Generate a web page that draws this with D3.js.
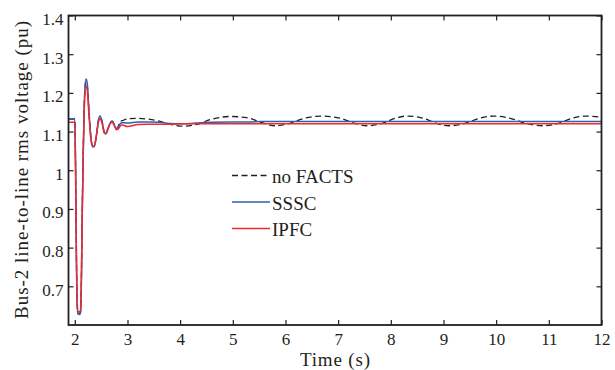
<!DOCTYPE html>
<html><head><meta charset="utf-8">
<script src="https://cdn.jsdelivr.net/npm/d3@7"></script>
<style>
html,body{margin:0;padding:0;background:#fff;}
svg{display:block;}
text{font-family:"Liberation Serif","Times New Roman",serif;fill:#231f20;}
</style></head>
<body>
<script>
const time = [1.88,2.00,2.015,2.03,2.045,2.06,2.09,2.11,2.125,2.14,2.16,2.18,2.21,2.235,2.27,2.31,2.345,2.37,2.41,2.45,2.48,2.52,2.56,2.59,2.63,2.67,2.71,2.75,2.79,2.82,2.86,2.9,3.0,3.2,3.4,3.6,3.8,4.05,4.3,4.6,4.95,5.3,5.55,5.8,6.05,6.35,6.7,7.05,7.3,7.55,7.85,8.1,8.3,8.6,8.85,9.1,9.4,9.7,9.95,10.25,10.55,10.9,11.2,11.45,11.7,12.0];
const noFACTS = [1.132,1.132,1.0,0.78,0.655,0.632,0.630,0.636,0.72,0.88,1.05,1.17,1.229,1.22,1.15,1.08,1.062,1.063,1.09,1.13,1.138,1.125,1.098,1.095,1.108,1.122,1.126,1.117,1.108,1.112,1.126,1.128,1.133,1.134,1.132,1.127,1.119,1.114,1.118,1.132,1.139,1.135,1.123,1.115,1.120,1.134,1.140,1.134,1.122,1.115,1.122,1.135,1.140,1.135,1.122,1.115,1.121,1.135,1.140,1.135,1.122,1.115,1.122,1.135,1.140,1.137];
const SSSC = [1.133,1.133,1.0,0.78,0.652,0.628,0.627,0.633,0.72,0.88,1.05,1.175,1.236,1.226,1.15,1.078,1.060,1.061,1.09,1.13,1.140,1.125,1.097,1.094,1.108,1.122,1.127,1.117,1.107,1.110,1.120,1.123,1.122,1.125,1.125,1.124,1.121,1.120,1.122,1.124,1.125,1.125,1.126,1.126,1.126,1.126,1.126,1.126,1.126,1.126,1.126,1.126,1.126,1.126,1.126,1.126,1.126,1.126,1.126,1.126,1.126,1.126,1.126,1.126,1.126,1.126];
const IPFC = [1.124,1.124,0.99,0.78,0.66,0.635,0.634,0.640,0.72,0.88,1.04,1.16,1.216,1.208,1.14,1.075,1.062,1.063,1.09,1.125,1.133,1.12,1.097,1.095,1.107,1.120,1.124,1.115,1.105,1.106,1.114,1.117,1.113,1.118,1.119,1.119,1.119,1.120,1.120,1.120,1.120,1.120,1.120,1.120,1.120,1.120,1.120,1.120,1.120,1.120,1.120,1.120,1.120,1.120,1.120,1.120,1.120,1.120,1.120,1.120,1.120,1.120,1.120,1.120,1.120,1.120];
const xTicks = [2,3,4,5,6,7,8,9,10,11,12];
const yTicks = [0.7,0.8,0.9,1,1.1,1.2,1.3,1.4];
const seriesNames = ["no FACTS","SSSC","IPFC"];
const seriesColors = ["#231f20","#2f5fae","#ee2a2e"];

const W = 615, H = 370;
const m = {left:68.5, right:13.5, top:15.5, bottom:45};
const svg = d3.select("body").append("svg").attr("width",W).attr("height",H);
const x = d3.scaleLinear().domain([1.88,12]).range([m.left, W-m.right]);
const y = d3.scaleLinear().domain([0.6,1.4]).range([H-m.bottom, m.top]);

const data = [noFACTS, SSSC, IPFC];
const line = d3.line().x((d,i)=>x(time[i])).y(d=>y(d)).curve(d3.curveMonotoneX);
const g = svg.append("g");
data.forEach((s,k)=>{
  g.append("path").datum(s).attr("d",line).attr("fill","none")
   .attr("stroke",seriesColors[k]).attr("stroke-width",k===0?1.3:1.5)
   .attr("stroke-dasharray",k===0?"6,3.5":null);
});

// axes
const fs = 17;
const xb = svg.append("g").attr("transform",`translate(0,${H-m.bottom})`)
  .call(d3.axisBottom(x).tickValues(xTicks).tickSize(-5).tickPadding(8).tickFormat(d3.format("d")));
const xt = svg.append("g").attr("transform",`translate(0,${m.top})`)
  .call(d3.axisTop(x).tickValues(xTicks).tickSize(-5).tickFormat(""));
const yl = svg.append("g").attr("transform",`translate(${m.left},0)`)
  .call(d3.axisLeft(y).tickValues(yTicks).tickSize(-5).tickPadding(5).tickFormat(d=>d===1?"1":d3.format(".1f")(d)));
const yr = svg.append("g").attr("transform",`translate(${W-m.right},0)`)
  .call(d3.axisRight(y).tickValues(yTicks).tickSize(-5).tickFormat(""));
[xb,xt,yl,yr].forEach(a=>{
  a.select(".domain").remove();
  a.selectAll(".tick line").attr("stroke","#231f20").attr("stroke-width",1.2);
  a.selectAll("text").attr("font-size",fs).attr("font-family","Liberation Serif").attr("fill","#231f20");
});
yl.selectAll("text").attr("dy","0.52em");
svg.append("rect").attr("x",m.left).attr("y",m.top).attr("width",W-m.left-m.right).attr("height",H-m.top-m.bottom)
  .attr("fill","none").attr("stroke","#231f20").attr("stroke-width",1.8);

svg.append("text").attr("x",(m.left+W-m.right)/2).attr("y",366).attr("text-anchor","middle")
  .attr("font-size",19).attr("textLength",70).attr("lengthAdjust","spacing").text("Time (s)");
svg.append("text").attr("transform",`translate(28,170) rotate(-90)`).attr("text-anchor","middle")
  .attr("font-size",19).attr("textLength",298).attr("lengthAdjust","spacing").text("Bus-2 line-to-line rms voltage (pu)");

// legend
const lg = svg.append("g");
seriesNames.forEach((n,k)=>{
  const yy = 175.5 + k*26.5;
  lg.append("line").attr("x1",232).attr("x2",270).attr("y1",yy).attr("y2",yy)
    .attr("stroke",seriesColors[k]).attr("stroke-width",k===0?1.3:1.5).attr("stroke-dasharray",k===0?"6,3.5":null);
  lg.append("text").attr("x",272).attr("y",yy+7.5).attr("font-size",19).text(n);
});
</script>
</body></html>
